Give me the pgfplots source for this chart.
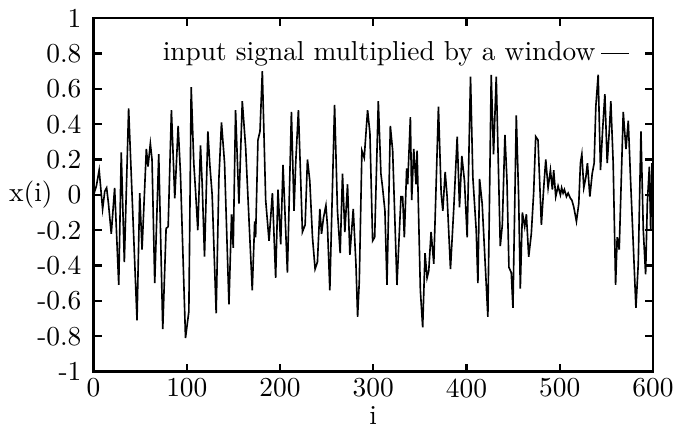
\documentclass[11pt,border=0pt]{standalone}
\usepackage{pgfplots}
\pgfplotsset{compat=1.18}
\begin{document}
\begin{tikzpicture}
\begin{axis}[
 name=ax,
 scale only axis,
 width=223.6pt, height=141.2pt,
 xmin=0, xmax=600, ymin=-1, ymax=1,
 xtick={0,100,200,300,400,500,600},
 xticklabels={0,100,200,300,400,500,600},
 ytick={-1,-0.8,-0.6,-0.4,-0.2,0,0.2,0.4,0.6,0.8,1},
 yticklabels={-1,-0.8,-0.6,-0.4,-0.2,0,0.2,0.4,0.6,0.8,1},
 tick align=inside,
 major tick length=3.2pt,
 axis line style={line width=0.9pt},
 every tick/.style={black, line width=0.9pt},
 yticklabel style={xshift=-1pt},
 xticklabel style={yshift=1pt},
 xlabel={i}, ylabel={x(i)},
 every axis x label/.style={at={(rel axis cs:0.5,0)}, anchor=north, yshift=-13.8pt, inner sep=0pt},
 every axis y label/.style={at={(rel axis cs:0,0.5)}, anchor=east, xshift=-16.2pt, inner sep=0pt},
 legend style={draw=none, fill=none, inner sep=0pt, at={(rel axis cs:1,1)}, anchor=north east, xshift=-9.2pt, yshift=-7.2pt, legend plot pos=right},
 legend image code/.code={\draw[#1] (0pt,0pt) -- (11pt,0pt);},
]
\addplot[black, line width=0.65pt, mark=none] coordinates {
(0,0) (3,0.05) (6,0.14) (9.7,-0.08) (12,0.02) (14,0.04) (16,-0.05) (19,-0.22) (22.6,0.04) (27,-0.51) (29.7,0.24) (33,-0.38) (37.6,0.49)
(46.6,-0.71) (49.5,0.01) (52,-0.31) (56.6,0.26) (58.4,0.16) (60.9,0.29) (62.7,0.2) (65.6,-0.5) (69.9,0.23) (74.2,-0.76)
(77.8,-0.19) (80,-0.18) (83.5,0.48) (87.1,-0.02) (90.7,0.39) (93.2,0.12) (98.6,-0.81) (102.2,-0.66) (104.7,0.61)
(107.5,0.18) (109.3,0.03) (111.8,-0.2) (114.7,0.28) (116.5,0.06) (119,-0.35) (122.6,0.36) (124.7,0.17) (127.2,0)
(131.5,-0.67) (134.4,0.09) (137.2,0.41) (140.5,0.18) (145.2,-0.62) (148,-0.11) (149.8,-0.3) (152.3,0.48) (155.9,-0.05)
(159.5,0.53) (163.1,0.27) (170.2,-0.54) (172.8,-0.15) (173.8,-0.24) (176.3,0.31) (178.5,0.36) (181,0.70) (184.6,-0.03)
(188.2,-0.26) (191.8,0.01) (195.3,-0.47) (197.8,0.03) (200.7,-0.28) (203.2,0.17) (207.9,-0.44) (212.2,0.47) (215,-0.09)
(216.8,0.18) (219.7,0.48) (224,-0.21) (226.9,-0.17) (229.4,0.2) (231.9,0.08) (234.8,-0.24) (237.6,-0.42) (240.1,-0.38)
(242.7,-0.08) (244.5,-0.22) (246.6,-0.13) (249.2,-0.06) (250.9,-0.18) (253.4,-0.54) (256.3,0.06) (258.5,0.51) (261.6,-0.09)
(264.5,-0.33) (267,0.12) (269.5,-0.21) (272.4,0.06) (274.9,-0.34) (278.5,-0.08) (281.4,-0.39) (283.2,-0.69) (285,-0.49)
(287.8,0.25) (290.3,0.21) (293.9,0.48) (296.4,0.35) (299.3,-0.26) (301.5,-0.24) (305.4,0.53) (308.2,0.12) (310,0.04)
(312.5,-0.09) (314.7,-0.51) (318.3,0.39) (320.8,0.25) (325.4,-0.51) (329.7,-0.01) (331.5,-0.01) (333.3,-0.24) (335.8,0.15)
(336.9,0.06) (339.8,0.44) (341.2,-0.03) (343.4,0.26) (345.9,0.06) (347,0.25) (350.5,-0.54) (353,-0.75) (355.5,-0.33)
(357.7,-0.47) (359.5,-0.43) (362,-0.21) (364.9,-0.39) (369.9,0.5) (372.8,0.01) (374.6,-0.09) (377.1,0.13) (379.2,-0.01)
(382.8,-0.42) (386.4,-0.07) (390,0.33) (392.5,-0.07) (395,0.22) (397.8,0.08) (400.7,-0.24) (404.3,0.67) (406.8,0.1)
(410.4,-0.2) (412.2,-0.5) (414,0.09) (416.8,-0.05) (422.9,-0.69) (426.5,0.68) (429,0.23) (431.9,0.67) (436.2,-0.29)
(438.4,-0.17) (441.2,0.34) (443.4,0.08) (445.5,-0.41) (448,-0.44) (449.8,-0.64) (453.4,0.45) (455.9,-0.01) (457.7,-0.53)
(459.9,-0.1) (462.4,-0.18) (464.2,-0.11) (466.7,-0.35) (469.5,-0.22) (472,0.01) (474.2,0.33) (476.7,0.31) (480.3,-0.17)
(482.8,0.04) (485,0.2) (487.5,0.04) (490,0.14) (492.1,0.03) (493.5,0.14) (495.7,-0.01) (498.2,0.05) (500.7,0)
(502,0.04) (503.6,0.01) (505,0.03) (507.2,-0.01) (509,0.01) (511.5,-0.02) (513,-0.03) (515.1,-0.07) (517.9,-0.15)
(520.4,-0.05) (522.2,0.18) (523.7,0.23) (525.8,0.04) (528,0.1) (529.7,0.18) (532.3,-0.01) (534.8,0.12) (536.9,0.18)
(538.7,0.5) (541.2,0.68) (543.7,0.14) (545.9,0.36) (548.4,0.57) (550.9,0.18) (553.1,0.36) (554.8,0.53) (557.3,0.18)
(559.9,-0.51) (561.6,-0.24) (563.8,-0.31) (568.1,0.47) (571,0.26) (573.5,0.42) (576,0.08) (581.7,-0.64) (584.2,-0.39)
(587.1,0.36) (589.6,-0.2) (592.1,-0.45) (593.9,-0.05) (596.1,0.16) (597.5,-0.2) (599,0.18) (600,-0.15)
};
\addlegendentry{input signal multiplied by a window}
\end{axis}
\path ([shift={(-37.4pt,-22pt)}]ax.south west) rectangle ([shift={(16pt,4pt)}]ax.north east);
\end{tikzpicture}
\end{document}
